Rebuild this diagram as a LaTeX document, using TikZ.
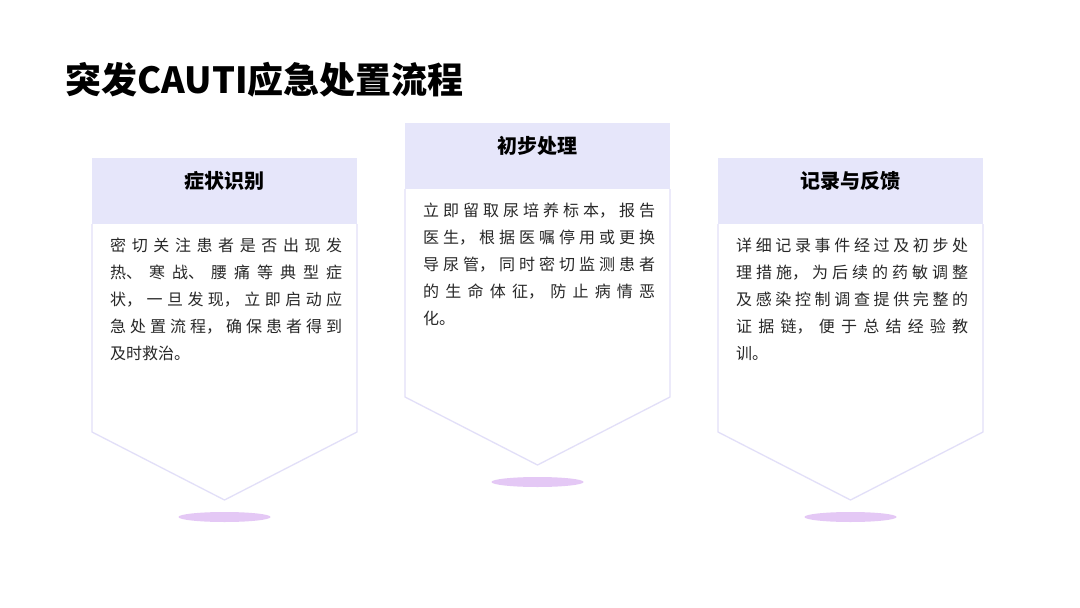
\documentclass[tikz,border=0pt]{standalone}
\usepackage{fontspec}
\setmainfont{Noto Sans CJK SC}
\XeTeXlinebreaklocale "zh"
\XeTeXlinebreakskip=0pt plus 6pt

\definecolor{headfill}{RGB}{230,230,250}
\definecolor{linecol}{RGB}{226,223,248}
\definecolor{glowcol}{RGB}{228,200,245}
\definecolor{textgray}{RGB}{40,40,40}

\begin{document}
\begin{tikzpicture}[
  x=1pt,y=-1pt,
  headbox/.style={fill=headfill,minimum width=265pt,minimum height=66pt,
    text height=17pt,text depth=23pt,
    anchor=north west,inner sep=0pt,font=\bfseries\fontsize{20}{22}\selectfont},
  bodytext/.style={anchor=north west,inner sep=0pt,text width=232pt,align=justify,
    font=\fontsize{16}{27}\selectfont,text=textgray},
  outline/.style={draw=linecol,line width=1.3pt,line join=miter},
  glow/.style={fill=glowcol}
]
  \useasboundingbox[fill=white] (0,0) rectangle (1080,608);

  \node[anchor=west,font=\bfseries\fontsize{36}{40}\selectfont] (title) at (62,80) {突发CAUTI应急处置流程};

  \foreach \x/\y/\name/\head/\body in {
    92/158/sym/{症状识别}/{密切关注患者是否出现发\linebreak 热、寒战、腰痛等典型症\linebreak 状，一旦发现，立即启动应\linebreak 急处置流程，确保患者得到\linebreak 及时救治。},
    405/123/first/{初步处理}/{立即留取尿培养标本，报告\linebreak 医生，根据医嘱停用或更换\linebreak 导尿管，同时密切监测患者\linebreak 的生命体征，防止病情恶\linebreak 化。},
    718/158/rec/{记录与反馈}/{详细记录事件经过及初步处\linebreak 理措施，为后续的药敏调整\linebreak 及感染控制调查提供完整的\linebreak 证据链，便于总结经验教\linebreak 训。}
  }{
    \draw[outline] (\x,\y+66) -- (\x,\y+274) -- (\x+132.5,\y+342)
      -- (\x+265,\y+274) -- (\x+265,\y+66);
    \node[headbox] (head-\name) at (\x,\y) {\head};
    \node[bodytext] (body-\name) at (\x+18,\y+80) {\body};
    \fill[glow] (\x+132.5,\y+359) ellipse [x radius=46, y radius=5];
  }
\end{tikzpicture}
\end{document}
